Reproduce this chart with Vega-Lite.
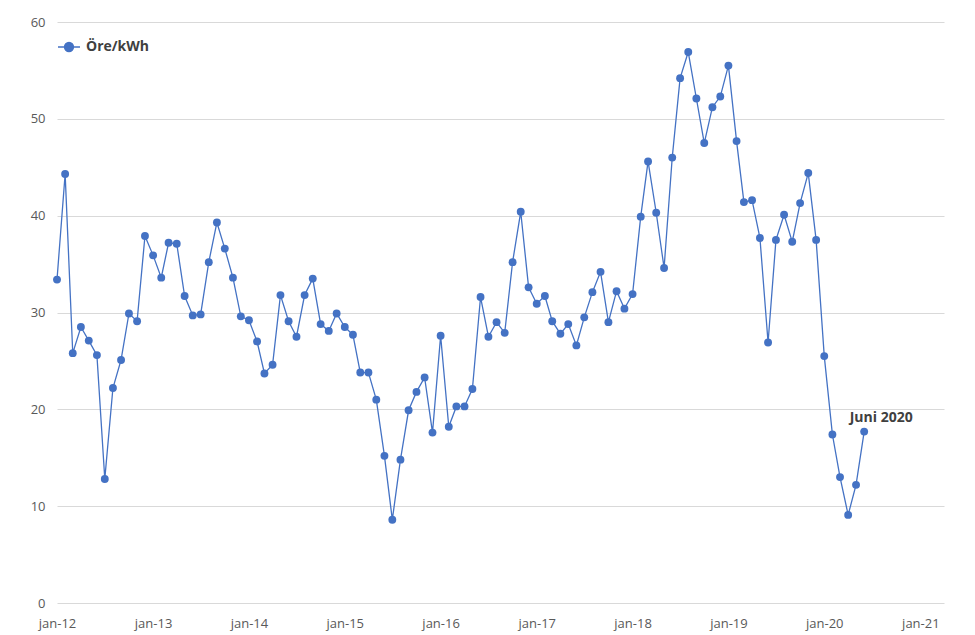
{
  "$schema": "https://vega.github.io/schema/vega-lite/v6.json",
  "autosize": "none",
  "width": 887,
  "height": 581,
  "padding": {"left": 57, "top": 22, "right": 31, "bottom": 32},
  "background": "white",
  "config": {
    "view": {"stroke": null},
    "font": "Open Sans",
    "axis": {"labelFont": "Open Sans", "labelColor": "#595959", "labelFontSize": 13, "gridColor": "#d9d9d9", "gridWidth": 1, "domain": false, "ticks": false}
  },
  "data": {"values": [
    {"date":"2012-01-01","v":33.4},{"date":"2012-02-01","v":44.3},{"date":"2012-03-01","v":25.8},{"date":"2012-04-01","v":28.5},
    {"date":"2012-05-01","v":27.1},{"date":"2012-06-01","v":25.6},{"date":"2012-07-01","v":12.8},{"date":"2012-08-01","v":22.2},
    {"date":"2012-09-01","v":25.1},{"date":"2012-10-01","v":29.9},{"date":"2012-11-01","v":29.1},{"date":"2012-12-01","v":37.9},
    {"date":"2013-01-01","v":35.9},{"date":"2013-02-01","v":33.6},{"date":"2013-03-01","v":37.2},{"date":"2013-04-01","v":37.1},
    {"date":"2013-05-01","v":31.7},{"date":"2013-06-01","v":29.7},{"date":"2013-07-01","v":29.8},{"date":"2013-08-01","v":35.2},
    {"date":"2013-09-01","v":39.3},{"date":"2013-10-01","v":36.6},{"date":"2013-11-01","v":33.6},{"date":"2013-12-01","v":29.6},
    {"date":"2014-01-01","v":29.2},{"date":"2014-02-01","v":27.0},{"date":"2014-03-01","v":23.7},{"date":"2014-04-01","v":24.6},
    {"date":"2014-05-01","v":31.8},{"date":"2014-06-01","v":29.1},{"date":"2014-07-01","v":27.5},{"date":"2014-08-01","v":31.8},
    {"date":"2014-09-01","v":33.5},{"date":"2014-10-01","v":28.8},{"date":"2014-11-01","v":28.1},{"date":"2014-12-01","v":29.9},
    {"date":"2015-01-01","v":28.5},{"date":"2015-02-01","v":27.7},{"date":"2015-03-01","v":23.8},{"date":"2015-04-01","v":23.8},
    {"date":"2015-05-01","v":21.0},{"date":"2015-06-01","v":15.2},{"date":"2015-07-01","v":8.6},{"date":"2015-08-01","v":14.8},
    {"date":"2015-09-01","v":19.9},{"date":"2015-10-01","v":21.8},{"date":"2015-11-01","v":23.3},{"date":"2015-12-01","v":17.6},
    {"date":"2016-01-01","v":27.6},{"date":"2016-02-01","v":18.2},{"date":"2016-03-01","v":20.3},{"date":"2016-04-01","v":20.3},
    {"date":"2016-05-01","v":22.1},{"date":"2016-06-01","v":31.6},{"date":"2016-07-01","v":27.5},{"date":"2016-08-01","v":29.0},
    {"date":"2016-09-01","v":27.9},{"date":"2016-10-01","v":35.2},{"date":"2016-11-01","v":40.4},{"date":"2016-12-01","v":32.6},
    {"date":"2017-01-01","v":30.9},{"date":"2017-02-01","v":31.7},{"date":"2017-03-01","v":29.1},{"date":"2017-04-01","v":27.8},
    {"date":"2017-05-01","v":28.8},{"date":"2017-06-01","v":26.6},{"date":"2017-07-01","v":29.5},{"date":"2017-08-01","v":32.1},
    {"date":"2017-09-01","v":34.2},{"date":"2017-10-01","v":29.0},{"date":"2017-11-01","v":32.2},{"date":"2017-12-01","v":30.4},
    {"date":"2018-01-01","v":31.9},{"date":"2018-02-01","v":39.9},{"date":"2018-03-01","v":45.6},{"date":"2018-04-01","v":40.3},
    {"date":"2018-05-01","v":34.6},{"date":"2018-06-01","v":46.0},{"date":"2018-07-01","v":54.2},{"date":"2018-08-01","v":56.9},
    {"date":"2018-09-01","v":52.1},{"date":"2018-10-01","v":47.5},{"date":"2018-11-01","v":51.2},{"date":"2018-12-01","v":52.3},
    {"date":"2019-01-01","v":55.5},{"date":"2019-02-01","v":47.7},{"date":"2019-03-01","v":41.4},{"date":"2019-04-01","v":41.6},
    {"date":"2019-05-01","v":37.7},{"date":"2019-06-01","v":26.9},{"date":"2019-07-01","v":37.5},{"date":"2019-08-01","v":40.1},
    {"date":"2019-09-01","v":37.3},{"date":"2019-10-01","v":41.3},{"date":"2019-11-01","v":44.4},{"date":"2019-12-01","v":37.5},
    {"date":"2020-01-01","v":25.5},{"date":"2020-02-01","v":17.4},{"date":"2020-03-01","v":13.0},{"date":"2020-04-01","v":9.1},
    {"date":"2020-05-01","v":12.2},{"date":"2020-06-01","v":17.7,"note":"Juni 2020"}
  ]},
  "encoding": {
    "x": {
      "field": "date", "type": "temporal",
      "scale": {"type": "utc", "domain": [1325376000000, 1617235200000]},
      "axis": {"title": null, "grid": false, "values": [1325376000000, 1356998400000, 1388534400000, 1420070400000, 1451606400000, 1483228800000, 1514764800000, 1546300800000, 1577836800000, 1609459200000], "labelExpr": "lower(utcFormat(datum.value, '%b-%y'))", "labelPadding": 14, "labelFlush": false}
    },
    "y": {
      "field": "v", "type": "quantitative",
      "scale": {"domain": [0, 60], "nice": false},
      "axis": {"title": null, "values": [0, 10, 20, 30, 40, 50, 60], "labelPadding": 12}
    }
  },
  "layer": [
    {
      "mark": {"type": "line", "strokeWidth": 1.3, "point": {"filled": true, "size": 62, "opacity": 1}},
      "encoding": {
        "color": {
          "datum": "Öre/kWh",
          "scale": {"range": ["#4472C4"]},
          "legend": {
            "title": null, "orient": "none", "legendX": 0, "legendY": 13,
            "symbolType": "M-1,0L1,0M-0.41,0A0.41,0.41,0,1,1,0.41,0A0.41,0.41,0,1,1,-0.41,0Z",
            "symbolSize": 484, "symbolFillColor": "#4472C4", "symbolStrokeColor": "#4472C4", "symbolStrokeWidth": 1.3,
            "labelFont": "Open Sans", "labelFontSize": 14, "labelFontWeight": "bold", "labelColor": "#404040", "labelOffset": 5
          }
        }
      }
    },
    {
      "transform": [{"filter": "datum.note != null"}],
      "mark": {"type": "text", "dx": 17, "dy": -14, "font": "Open Sans", "fontSize": 14, "fontWeight": "bold", "color": "#404040"},
      "encoding": {"text": {"field": "note"}}
    }
  ]
}
